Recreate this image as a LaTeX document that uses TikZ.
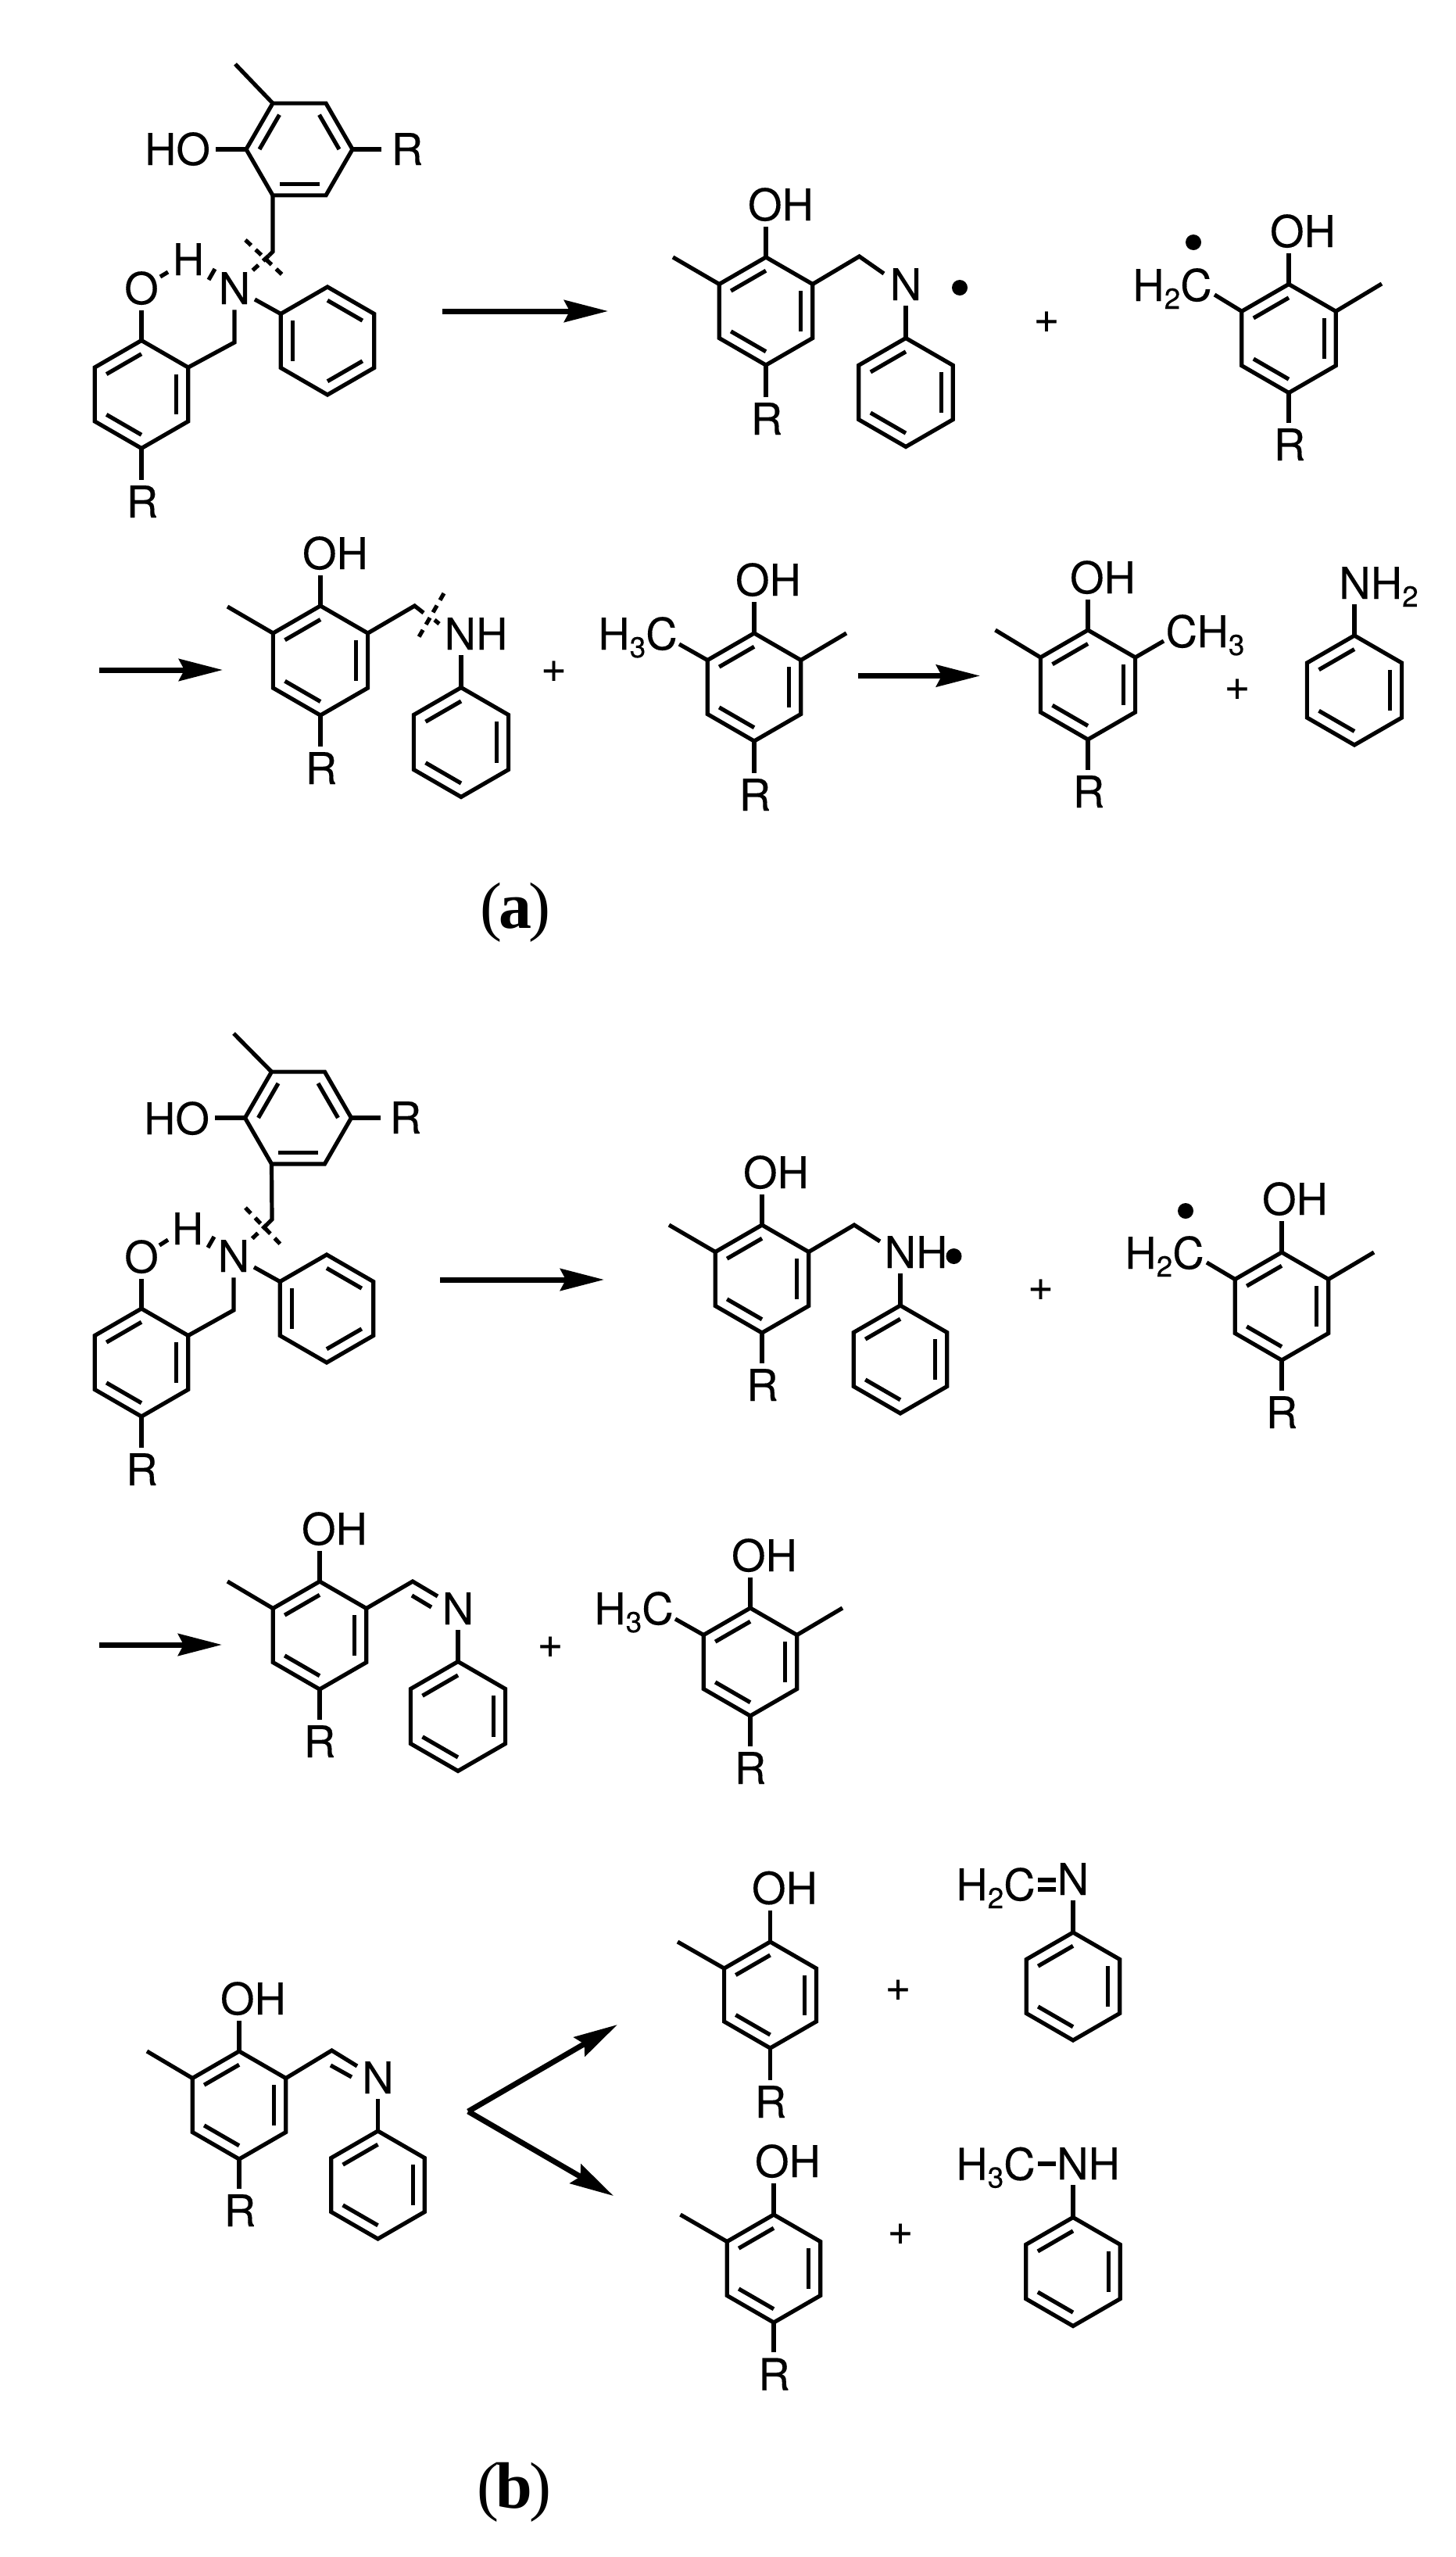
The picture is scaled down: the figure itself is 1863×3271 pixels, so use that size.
\documentclass[tikz,border=0pt]{standalone}
\usepackage{fontspec}
\setmainfont[FakeBold=0.25]{TeX Gyre Heros}
\newfontfamily\lblfont{Liberation Serif}
\usetikzlibrary{arrows.meta}
\newcommand{\subd}[1]{\smash{\raisebox{-5pt}{\fontsize{18.5}{18.5}\selectfont #1}}}
\tikzset{
  bond/.style={line width=2.6pt,line cap=butt,line join=miter,black},
  dbond/.style={bond,dash pattern=on 5pt off 4pt},
  atom/.style={inner sep=3.5pt,anchor=base,font=\fontsize{28}{28}\selectfont},
  plus/.style={inner sep=0pt,anchor=center,font=\fontsize{28}{28}\selectfont},
  radical/.style={circle,fill=black,inner sep=0pt,minimum size=10pt},
  rxn/.style={line width=3.5pt,line join=round,-{Stealth[length=28pt,width=14pt,inset=3.5pt]}},
  paper/.style={inner sep=0pt,anchor=base,font=\fontsize{42}{42}\lblfont}
}
% name, cx, cy, R, rotation, double-bond edges
\newcommand{\ring}[6]{%
  \foreach \k in {0,...,5}{\coordinate (#1\k) at ({#2+#4*cos(90-60*\k+#5)},{#3-#4*sin(90-60*\k+#5)});}
  \draw[bond] (#10) -- (#11) -- (#12) -- (#13) -- (#14) -- (#15) -- cycle;
  \foreach \e in {#6}{%
    \pgfmathtruncatemacro\nx{mod(\e+1,6)}
    \draw[bond] ({#2+.75*#4*cos(90-60*\e+#5)},{#3-.75*#4*sin(90-60*\e+#5)}) -- ({#2+.75*#4*cos(90-60*\nx+#5)},{#3-.75*#4*sin(90-60*\nx+#5)});
  }%
}
\newcommand{\bondto}[4]{\coordinate (#2) at (#3,#4); \draw[bond] (#1) -- (#2);}
\newcommand{\seg}[6]{\coordinate (#1) at (#2,#3); \coordinate (#4) at (#5,#6); \draw[bond] (#1) -- (#4);}
\newcommand{\rarrow}[5]{\coordinate (#1s) at (#2,#3); \coordinate (#1e) at (#4,#5); \draw[rxn] (#1s) -- (#1e);}
\begin{document}
\begin{tikzpicture}[x=0.5pt,y=-0.5pt]
\useasboundingbox[fill=white] (0,0) rectangle (1863,3271);
% ---------- M1
\ring{ra}{383}{191}{68}{30}{5,1,3}
\ring{rb}{181}{504.5}{69}{0}{5,1,3}
\ring{rc}{419}{436}{69}{0}{0,4,2}
\bondto{ra0}{m1me}{301}{82}
\node[atom] (m1ho) at (227,211) {HO};
\draw[bond] (ra5) -- (ra5 -| m1ho.east);
\node[atom] (m1r) at (521,211) {R};
\draw[bond,shorten >=2.5pt] (ra2) -- (ra2 -| m1r.west);
\coordinate (m1a) at (349,322); \coordinate (m1b) at (344,327);
\draw[bond] (ra4) -- (m1a) -- (m1b);
\node[atom] (m1h) at (241,352) {H};
\node[atom] (m1o) at (181,389) {O};
\node[atom] (m1n) at (300,389) {N};
\coordinate (m1c) at (322,347);
\draw[dbond] (m1b) -- (m1c);
\coordinate (m1x) at (314,307); \coordinate (m1y) at (366,356);
\draw[dbond] (m1x) -- (m1y);
\seg{m1d1}{205}{354}{m1d2}{215}{348}
\seg{m1d3}{267}{358}{m1d4}{275}{344}
\draw[bond] (rb0) -- (rb0 |- m1o.south);
\node[atom] (m1r2) at (182,662) {R};
\draw[bond] (rb3) -- (rb3 |- m1r2.north);
\coordinate (m1ch) at (300,438);
\draw[bond] (rb1) -- (m1ch) -- (m1ch |- m1n.south);
\bondto{rc5}{m1nb}{326}{383}
\rarrow{ar1}{566}{398}{778}{398}
% ---------- M2
\ring{rd}{980}{398}{69}{0}{5,1,3}
\ring{re}{1159}{502}{69.5}{0}{5,1,3}
\node[atom] (m2oh) at (999,282) {OH};
\draw[bond] (rd0) -- (rd0 |- m2oh.south);
\bondto{rd5}{m2me}{861}{329}
\coordinate (m2ch) at (1099.5,328); \coordinate (m2ne) at (1131,350);
\draw[bond] (rd1) -- (m2ch) -- (m2ne);
\node[atom] (m2n) at (1159,384) {N};
\draw[bond] (re0) -- (re0 |- m2n.south);
\node[atom] (m2r) at (981,556) {R};
\draw[bond] (rd3) -- (rd3 |- m2r.north);
\node[radical] (m2dot) at (1228,368) {};
\node[plus] (m2p) at (1339,412) {+};
% ---------- M3
\ring{rf}{1649}{433}{69.5}{0}{5,1,3}
\node[atom] (m3oh) at (1667,316) {OH};
\draw[bond] (rf0) -- (rf0 |- m3oh.south);
\bondto{rf1}{m3me}{1768}{363}
\node[atom] (m3c) at (1500,385) {H\subd{2}C};
\bondto{rf5}{m3ce}{1554}{377}
\node[radical] (m3dot) at (1527,310) {};
\node[atom] (m3r) at (1650,589) {R};
\draw[bond] (rf3) -- (rf3 |- m3r.north);
% ---------- row 2 of (a)
\rarrow{ar2}{127}{857}{285}{857}
\ring{rg}{410}{845}{70}{0}{5,1,3}
\ring{rh}{590}{949.5}{70}{0}{5,1,3}
\node[atom] (m4oh) at (429,728) {OH};
\draw[bond] (rg0) -- (rg0 |- m4oh.south);
\bondto{rg5}{m4me}{291}{776}
\coordinate (m4ch) at (530.5,775); \coordinate (m4b) at (542,784);
\draw[bond] (rg1) -- (m4ch) -- (m4b);
\coordinate (m4x) at (568,759); \coordinate (m4y) at (533,820);
\draw[dbond] (m4x) -- (m4y);
\seg{m4d1}{556}{793}{m4d2}{562}{798}
\node[atom] (m4nh) at (609,831) {NH};
\draw[bond] (rh0) -- (rh0 |- m4nh.south);
\node[atom] (m4r) at (411,1003) {R};
\draw[bond] (rg3) -- (rg3 |- m4r.north);
\node[plus] (m4p) at (708.5,859) {+};
\ring{ri}{965}{879}{69}{0}{5,1,3}
\node[atom] (m5oh) at (983,762) {OH};
\draw[bond] (ri0) -- (ri0 |- m5oh.south);
\bondto{ri1}{m5me}{1083}{810}
\node[atom] (m5c) at (816,831) {H\subd{3}C};
\bondto{ri5}{m5ce}{869}{824}
\node[atom] (m5r) at (966,1037) {R};
\draw[bond] (ri3) -- (ri3 |- m5r.north);
\rarrow{ar3}{1098}{864.5}{1254}{864.5}
\ring{rj}{1392}{876}{70}{0}{5,1,3}
\node[atom] (m6oh) at (1411,759) {OH};
\draw[bond] (rj0) -- (rj0 |- m6oh.south);
\bondto{rj5}{m6me}{1273.5}{806}
\node[atom] (m6c) at (1542,828) {CH\subd{3}};
\bondto{rj1}{m6ce}{1489}{820}
\node[atom] (m6r) at (1393,1033) {R};
\draw[bond] (rj3) -- (rj3 |- m6r.north);
\node[plus] (m6p) at (1583,882) {+};
\ring{rk}{1733}{883}{70}{0}{5,1,3}
\node[atom] (m7n) at (1764,766) {NH\subd{2}};
\draw[bond] (rk0) -- (rk0 |- m7n.south);
\node[paper] (la) at (659,1187) {(\kern-2pt{\bfseries a}\kern-2pt)};
% ---------- part (b), first row
\ring{rl}{381.5}{1430}{68}{30}{5,1,3}
\ring{rm}{181}{1743}{69}{0}{5,1,3}
\ring{rn}{418}{1674}{69}{0}{0,4,2}
\bondto{rl0}{b1me}{299}{1322}
\node[atom] (b1ho) at (226,1451) {HO};
\draw[bond] (rl5) -- (rl5 -| b1ho.east);
\node[atom] (b1r) at (519,1450) {R};
\draw[bond,shorten >=2pt] (rl2) -- (rl2 -| b1r.west);
\coordinate (b1a) at (348,1560); \coordinate (b1b) at (343,1565);
\draw[bond] (rl4) -- (b1a) -- (b1b);
\node[atom] (b1h) at (240,1592) {H};
\node[atom] (b1o) at (181,1628) {O};
\node[atom] (b1n) at (299,1627) {N};
\coordinate (b1c) at (322,1585);
\draw[dbond] (b1b) -- (b1c);
\coordinate (b1x) at (314,1545); \coordinate (b1y) at (363,1596);
\draw[dbond] (b1x) -- (b1y);
\seg{b1d1}{204}{1593}{b1d2}{215}{1586}
\seg{b1d3}{266}{1596}{b1d4}{274}{1582}
\draw[bond] (rm0) -- (rm0 |- b1o.south);
\node[atom] (b1r2) at (181.5,1900) {R};
\draw[bond] (rm3) -- (rm3 |- b1r2.north);
\coordinate (b1ch) at (299,1676);
\draw[bond] (rm1) -- (b1ch) -- (b1ch |- b1n.south);
\bondto{rn5}{b1nb}{325}{1621}
\rarrow{ar4}{563}{1637}{773}{1637}
\ring{ro}{975}{1636}{69}{0}{5,1,3}
\ring{rp}{1152}{1739}{69}{0}{5,1,3}
\node[atom] (b2oh) at (993,1520) {OH};
\draw[bond] (ro0) -- (ro0 |- b2oh.south);
\bondto{ro5}{b2me}{856}{1567}
\coordinate (b2ch) at (1093,1567); \coordinate (b2ne) at (1126,1588);
\draw[bond] (ro1) -- (b2ch) -- (b2ne);
\node[atom] (b2n) at (1172,1622) {NH};
\draw[bond] (rp0) -- (rp0 |- b2n.south);
\node[radical] (b2dot) at (1220.5,1607) {};
\node[atom] (b2r) at (975.5,1792) {R};
\draw[bond] (ro3) -- (ro3 |- b2r.north);
\node[plus] (b2p) at (1331.5,1650) {+};
\ring{rq}{1640}{1671}{69}{0}{5,1,3}
\node[atom] (b3oh) at (1657,1554) {OH};
\draw[bond] (rq0) -- (rq0 |- b3oh.south);
\bondto{rq1}{b3me}{1758}{1602}
\node[atom] (b3c) at (1490,1623) {H\subd{2}C};
\bondto{rq5}{b3ce}{1544}{1615}
\node[radical] (b3dot) at (1517,1549) {};
\node[atom] (b3r) at (1640,1827) {R};
\draw[bond] (rq3) -- (rq3 |- b3r.north);
% ---------- part (b), second row
\rarrow{ar5}{127}{2104}{284}{2104}
\ring{rr}{409}{2092}{69}{0}{5,1,3}
\ring{rs}{586}{2195.5}{70}{0}{5,1,3}
\node[atom] (b4oh) at (428,1976) {OH};
\draw[bond] (rr0) -- (rr0 |- b4oh.south);
\bondto{rr5}{b4me}{291}{2023}
\coordinate (b4ch) at (528,2023); \coordinate (b4ce) at (560,2042);
\draw[bond] (rr1) -- (b4ch) -- (b4ce);
\seg{b4i1}{527}{2041}{b4i2}{552}{2056}
\node[atom] (b4n) at (586,2078) {N};
\draw[bond] (rs0) -- (rs0 |- b4n.south);
\node[atom] (b4r) at (409,2248) {R};
\draw[bond] (rr3) -- (rr3 |- b4r.north);
\node[plus] (b4p) at (704,2107) {+};
\ring{rt}{960}{2126}{69}{0}{5,1,3}
\node[atom] (b5oh) at (978,2010) {OH};
\draw[bond] (rt0) -- (rt0 |- b5oh.south);
\bondto{rt1}{b5me}{1078}{2057}
\node[atom] (b5c) at (811,2078) {H\subd{3}C};
\bondto{rt5}{b5ce}{864}{2071}
\node[atom] (b5r) at (960,2282) {R};
\draw[bond] (rt3) -- (rt3 |- b5r.north);
% ---------- part (b), third row
\ring{ru}{306}{2693}{69}{0}{5,1,3}
\ring{rv}{483.5}{2795}{69}{0}{5,1,3}
\node[atom] (c1oh) at (324,2577) {OH};
\draw[bond] (ru0) -- (ru0 |- c1oh.south);
\bondto{ru5}{c1me}{188}{2624}
\coordinate (c1ch) at (424.5,2623); \coordinate (c1ce) at (457,2643);
\draw[bond] (ru1) -- (c1ch) -- (c1ce);
\seg{c1i1}{423}{2642}{c1i2}{450}{2657}
\node[atom] (c1n) at (483.5,2678) {N};
\draw[bond] (rv0) -- (rv0 |- c1n.south);
\node[atom] (c1r) at (307,2848) {R};
\draw[bond] (ru3) -- (ru3 |- c1r.north);
\coordinate (vv) at (599,2701);
\coordinate (vu) at (790,2590);
\coordinate (vd) at (785,2809);
\draw[rxn] (vv) -- (vu);
\draw[rxn] (vv) -- (vd);
\ring{rw}{985.5}{2552}{68}{0}{5,1,3}
\node[atom] (c2oh) at (1004,2435.5) {OH};
\draw[bond] (rw0) -- (rw0 |- c2oh.south);
\bondto{rw5}{c2me}{867}{2484}
\node[atom] (c2r) at (986,2709) {R};
\draw[bond] (rw3) -- (rw3 |- c2r.north);
\node[plus] (c2p) at (1149,2546) {+};
\node[atom] (c3c) at (1274,2431) {H\subd{2}C};
\node[atom] (c3n) at (1373,2424) {N};
\seg{c3e1}{1328}{2405}{c3e2}{1351}{2405}
\seg{c3e3}{1328}{2417}{c3e4}{1351}{2417}
\ring{rx}{1373}{2541}{69}{0}{5,1,3}
\draw[bond] (rx0) -- (rx0 |- c3n.south);
\ring{ry}{990}{2902}{69}{0}{5,1,3}
\node[atom] (c4oh) at (1008,2785) {OH};
\draw[bond] (ry0) -- (ry0 |- c4oh.south);
\bondto{ry5}{c4me}{870.5}{2833}
\node[atom] (c4r) at (990.5,3057.5) {R};
\draw[bond] (ry3) -- (ry3 |- c4r.north);
\node[plus] (c4p) at (1152,2858) {+};
\node[atom] (c5c) at (1274,2788.5) {H\subd{3}C};
\node[atom] (c5n) at (1392.5,2788) {NH};
\seg{c5e1}{1328}{2768}{c5e2}{1351}{2768}
\ring{rz}{1373}{2906}{69.5}{0}{5,1,3}
\draw[bond] (rz0) -- (rz0 |- c5n.south);
\node[paper] (lb) at (658,3208) {(\kern-2pt{\bfseries b}\kern-2pt)};
\end{tikzpicture}
\end{document}
